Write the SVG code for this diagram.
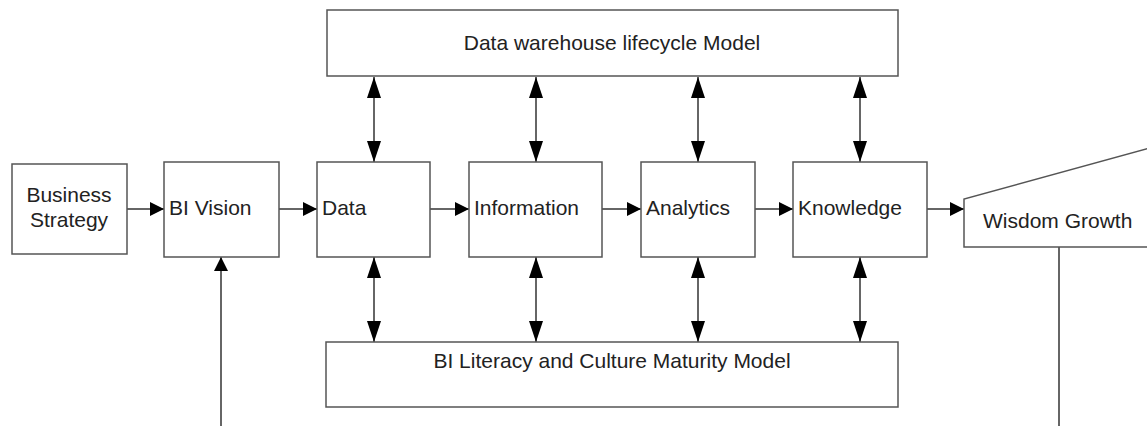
<svg xmlns="http://www.w3.org/2000/svg" width="1147" height="426" viewBox="0 0 1147 426">
<style>
.box{fill:#fff;stroke:#555;stroke-width:1.5}
.lbl{font-family:"Liberation Sans",Arial,sans-serif;font-size:21px;fill:#222}
.c{text-anchor:middle}
.con{fill:none;stroke:#333;stroke-width:1.5}
</style>
<defs>
<marker id="ah" markerUnits="userSpaceOnUse" markerWidth="14" markerHeight="14" refX="14" refY="7" orient="auto-start-reverse" viewBox="0 0 14 14">
<path d="M0,0 L14,7 L0,14 z" fill="#000"/>
</marker>
<marker id="av" markerUnits="userSpaceOnUse" markerWidth="21" markerHeight="14" refX="21" refY="7" orient="auto-start-reverse" viewBox="0 0 21 14">
<path d="M0,0 L21,7 L0,14 z" fill="#000"/>
</marker>
</defs>
<rect width="1147" height="426" fill="#fff"/>
<g id="connectors">
<line class="con" x1="127" y1="209" x2="164" y2="209" marker-end="url(#ah)"/>
<line class="con" x1="279" y1="209" x2="317" y2="209" marker-end="url(#ah)"/>
<line class="con" x1="430" y1="209" x2="469" y2="209" marker-end="url(#ah)"/>
<line class="con" x1="602" y1="209" x2="641" y2="209" marker-end="url(#ah)"/>
<line class="con" x1="755" y1="209" x2="793" y2="209" marker-end="url(#ah)"/>
<line class="con" x1="927" y1="209" x2="964" y2="209" marker-end="url(#ah)"/>
<line class="con" x1="374" y1="77" x2="374" y2="162" marker-start="url(#av)" marker-end="url(#av)"/>
<line class="con" x1="536" y1="77" x2="536" y2="162" marker-start="url(#av)" marker-end="url(#av)"/>
<line class="con" x1="698" y1="77" x2="698" y2="162" marker-start="url(#av)" marker-end="url(#av)"/>
<line class="con" x1="860" y1="77" x2="860" y2="162" marker-start="url(#av)" marker-end="url(#av)"/>
<line class="con" x1="374" y1="257" x2="374" y2="342" marker-start="url(#av)" marker-end="url(#av)"/>
<line class="con" x1="536" y1="257" x2="536" y2="342" marker-start="url(#av)" marker-end="url(#av)"/>
<line class="con" x1="698" y1="257" x2="698" y2="342" marker-start="url(#av)" marker-end="url(#av)"/>
<line class="con" x1="860" y1="257" x2="860" y2="342" marker-start="url(#av)" marker-end="url(#av)"/>
<line class="con" x1="221" y1="426" x2="221" y2="257" marker-end="url(#ah)"/>
<line class="con" x1="1059" y1="247" x2="1059" y2="426"/>
</g>
<g id="dw-model">
<rect class="box" x="327" y="10" width="571" height="66"/>
<text class="lbl c" x="612" y="50">Data warehouse lifecycle Model</text>
</g>
<g id="business-strategy">
<rect class="box" x="12" y="164" width="115" height="90"/>
<text class="lbl c" x="69" y="202">Business</text>
<text class="lbl c" x="69" y="227">Strategy</text>
</g>
<g id="bi-vision">
<rect class="box" x="164" y="162" width="115" height="95"/>
<text class="lbl" x="169" y="215">BI Vision</text>
</g>
<g id="data">
<rect class="box" x="317" y="162" width="113" height="95"/>
<text class="lbl" x="322" y="215">Data</text>
</g>
<g id="information">
<rect class="box" x="469" y="162" width="133" height="95"/>
<text class="lbl" x="474" y="215">Information</text>
</g>
<g id="analytics">
<rect class="box" x="641" y="162" width="114" height="95"/>
<text class="lbl" x="646" y="215">Analytics</text>
</g>
<g id="knowledge">
<rect class="box" x="793" y="162" width="134" height="95"/>
<text class="lbl" x="798" y="215">Knowledge</text>
</g>
<g id="wisdom-growth">
<path class="box" d="M1150,148 L964,199 L964,247 L1150,247"/>
<text class="lbl" x="983" y="228">Wisdom Growth</text>
</g>
<g id="bi-literacy">
<rect class="box" x="326" y="342" width="572" height="65"/>
<text class="lbl c" x="612" y="368">BI Literacy and Culture Maturity Model</text>
</g>
</svg>
